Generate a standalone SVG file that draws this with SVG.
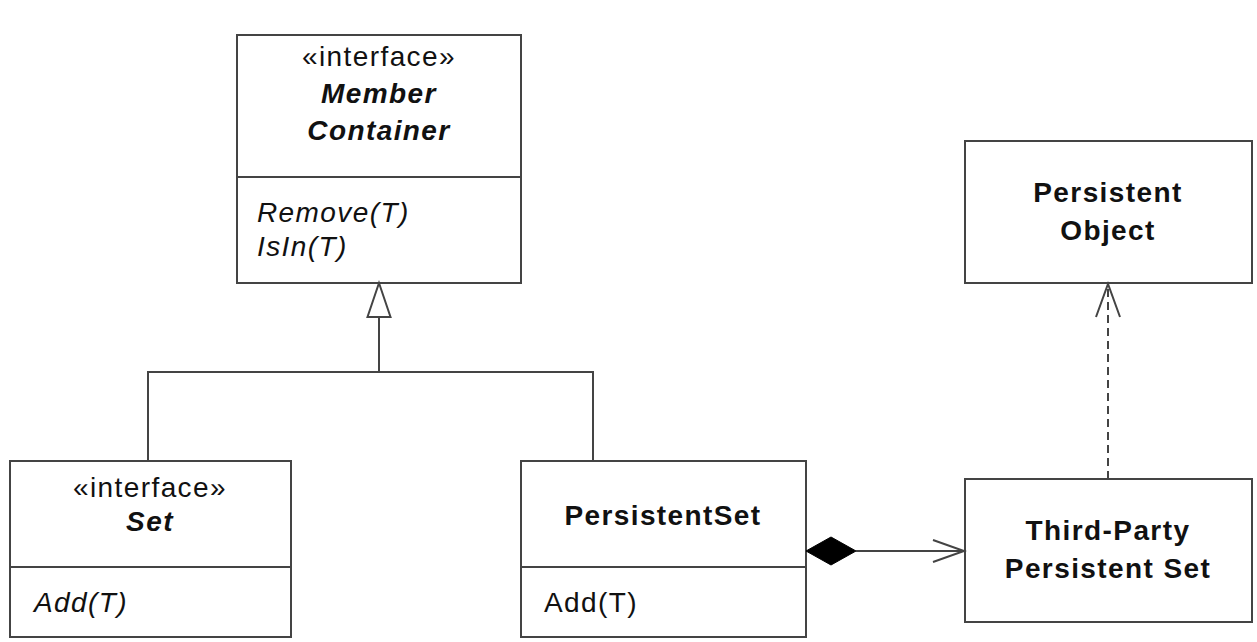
<svg xmlns="http://www.w3.org/2000/svg" width="1257" height="642" viewBox="0 0 1257 642">
<style>
.box{fill:#fff;stroke:#444;stroke-width:2}
.ln{fill:none;stroke:#444;stroke-width:2}
.t{font-family:"Liberation Sans",Arial,sans-serif;font-size:28px;fill:#111;letter-spacing:1.4px}
.c{text-anchor:middle}
.b{font-weight:bold}
.i{font-style:italic}
</style>
<rect width="1257" height="642" fill="#fff"/>
<g id="member-container">
<rect class="box" x="237" y="35" width="284" height="248"/>
<line class="ln" x1="237" y1="177" x2="521" y2="177"/>
<text class="t c" x="379" y="66">«interface»</text>
<text class="t c b i" x="379" y="103">Member</text>
<text class="t c b i" x="379" y="140">Container</text>
<text class="t i" x="257" y="222">Remove(T)</text>
<text class="t i" x="257" y="256">IsIn(T)</text>
</g>
<g id="persistent-object">
<rect class="box" x="965" y="141" width="287" height="142"/>
<text class="t c b" x="1108" y="202">Persistent</text>
<text class="t c b" x="1108" y="240">Object</text>
</g>
<g id="set">
<rect class="box" x="10" y="461" width="281" height="176"/>
<line class="ln" x1="10" y1="567" x2="291" y2="567"/>
<text class="t c" x="150" y="497">«interface»</text>
<text class="t c b i" x="150" y="531">Set</text>
<text class="t i" x="34" y="612">Add(T)</text>
</g>
<g id="persistent-set">
<rect class="box" x="521" y="461" width="285" height="176"/>
<line class="ln" x1="521" y1="567" x2="806" y2="567"/>
<text class="t c b" x="663" y="525">PersistentSet</text>
<text class="t" x="544" y="612">Add(T)</text>
</g>
<g id="third-party-persistent-set">
<rect class="box" x="965" y="479" width="287" height="143"/>
<text class="t c b" x="1108" y="540">Third-Party</text>
<text class="t c b" x="1108" y="578">Persistent Set</text>
</g>
<g id="connectors">
<polyline class="ln" points="148,461 148,372 593,372 593,461"/>
<line class="ln" x1="379" y1="372" x2="379" y2="317"/>
<polygon class="ln" style="fill:#fff" points="379,283 367.5,317 390.5,317"/>
<line class="ln" x1="1108" y1="479" x2="1108" y2="285" stroke-dasharray="8,5"/>
<polyline class="ln" points="1096,317 1108,284 1120,317"/>
<polygon points="806,551 831,537 856,551 831,565" fill="#000" stroke="#000" stroke-width="1"/>
<line class="ln" x1="856" y1="551" x2="964" y2="551"/>
<polyline class="ln" points="933,540 964,551 933,562"/>
</g>
</svg>
